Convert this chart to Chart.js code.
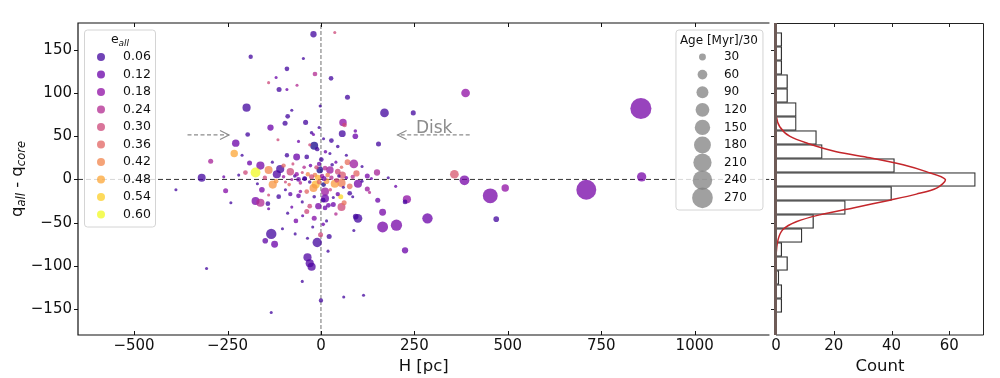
<!DOCTYPE html>
<html>
<head>
<meta charset="utf-8">
<script src="https://cdn.jsdelivr.net/npm/chart.js@4.4.1/dist/chart.umd.min.js"></script>
<style>
html, body { margin: 0; padding: 0; background: #fff; }
#wrap { position: relative; width: 1000px; height: 378px; overflow: hidden; }
canvas { position: absolute; top: 0; }
#scatterChart { left: 0; }
#histChart { left: 760px; }
</style>
</head>
<body>
<div id="wrap">
  <canvas id="scatterChart" width="780" height="378"></canvas>
  <canvas id="histChart" width="240" height="378"></canvas>
</div>
<script>
// scatter: H [pc], q_all - q_core, e_all, Age[Myr]/30
const H = [
  -20, 37, -188, -47, -91, -16, 27, -120, -140, -112,
  -91, -64, 71, 387, 856, -199, 170, 247, -78, -89,
  -96, -41, 59, 63, -135, 57, 92, 92, -196, -25,
  -20, 28, -60, -115, -228, 154, -18, 7, -232, -211,
  -91, -65, -38, 68, 24, -295, -191, 71, 88, -162,
  -140, -175, -202, -118, -109, -82, -319, 95, 124, 150,
  357, 384, 858, 24, 45, 57, -3, 11, -16, -44,
  -60, -78, -50, 1, -5, -388, -255, -241, -175, -162,
  -142, -140, -158, -129, -113, -82, -60, -78, -67, -89,
  -49, -38, -18, -133, -149, -124, -103, -69, -36, -10,
  -1, 22, -36, -30, -25, -50, 0, -306, -133, 61,
  114, 19, -14, -20, -38, 11, 11, 6, -7, -30,
  11, 7, -43, 53, 77, 33, 55, 62, 99, 93,
  152, 124, 99, 77, 55, 37, 15, 230, 225, 165,
  165, 202, 285, 469, 88, 225, 453, 493, 710, 20,
  33, 60, 15, -22, -100, -95, -70, -55, -35, -30,
  -25, -8, -5, 3, 8, 18, 28, 42, 48, 68,
  85, 110, 135, -150, -120, -85, -65, -45, -28, -12,
  30, 40, 55, 110, -75, -130, -100, -55, -18, 25,
  45, 85, 130, -95, -140, -170, -220, -260, 180, 200,
  -10, 12, -30, 45, -50, 40, -5, -2, 6
];
const DQ = [
  168, 170, 142, 140, 128, 122, 117, 118, 112, 104,
  104, 109, 95, 100, 82, 83, 77, 77, 80, 73,
  65, 66, 66, 63, 60, 53, 50, 56, 52, 54,
  52, 45, 44, 46, 42, 41, 39, 47, 30, 28,
  28, 26, 26, 28, 30, 21, 19, 20, 18, 16,
  11, 8, 8, 6, 12, 9, 2, 7, 4, 8,
  6, -1, 3, 11, 9, 5, 11, 13, 5, 1,
  0, 0, 8, 23, 18, -12, -13, -27, -25, -27,
  -28, -34, -12, -6, -20, -17, -19, -32, -48, -39,
  -42, -37, -45, -63, -71, -75, -57, -63, -68, -73,
  -64, -66, -90, -97, -101, -118, -140, -103, -154, -136,
  -134, -83, -6, -10, -14, -14, -22, -24, -31, -31,
  -33, -6, 1, -20, -16, -29, -32, -27, -45, -43,
  -24, -11, -5, -8, -4, -5, -2, -23, -26, -38,
  -55, -53, -45, -46, -59, -82, -19, -10, -12, -30,
  -21, -9, -48, -55, 3, -3, 4, -4, 6, -3,
  3, 2, -3, 4, 1, 5, 2, -1, 4, 2,
  3, -2, 1, 2, -2, -6, 6, 14, 16, 14,
  17, 20, 14, 15, 18, 20, 16, -14, -20, -12,
  -17, -20, -15, -12, -18, -5, 5, 3, 2, -8,
  35, 32, 40, 38, -26, -40, 60, 85, -52
];
const ECC = [
  0.06, 0.30, 0.06, 0.06, 0.06, 0.24, 0.06, 0.12, 0.30, 0.06,
  0.12, 0.24, 0.06, 0.18, 0.14, 0.06, 0.06, 0.06, 0.06, 0.06,
  0.06, 0.06, 0.18, 0.30, 0.12, 0.06, 0.12, 0.12, 0.06, 0.06,
  0.12, 0.06, 0.12, 0.30, 0.12, 0.06, 0.01, 0.06, 0.48, 0.06,
  0.06, 0.12, 0.06, 0.06, 0.06, 0.22, 0.12, 0.38, 0.20, 0.14,
  0.42, 0.60, 0.30, 0.08, 0.06, 0.30, 0.06, 0.36, 0.14, 0.22,
  0.33, 0.14, 0.14, 0.20, 0.30, 0.33, 0.01, 0.24, 0.40, 0.06,
  0.12, 0.20, 0.30, 0.06, 0.12, 0.06, 0.16, 0.06, 0.14, 0.24,
  0.06, 0.12, 0.14, 0.45, 0.06, 0.10, 0.12, 0.12, 0.14, 0.06,
  0.10, 0.30, 0.16, 0.06, 0.10, 0.12, 0.06, 0.06, 0.06, 0.06,
  0.30, 0.06, 0.08, 0.08, 0.08, 0.06, 0.06, 0.06, 0.06, 0.06,
  0.06, 0.06, 0.50, 0.45, 0.36, 0.20, 0.12, 0.06, 0.14, 0.30,
  0.12, 0.01, 0.06, 0.55, 0.06, 0.12, 0.30, 0.38, 0.06, 0.06,
  0.12, 0.20, 0.14, 0.38, 0.40, 0.46, 0.45, 0.18, 0.06, 0.14,
  0.14, 0.14, 0.12, 0.06, 0.06, 0.12, 0.14, 0.18, 0.14, 0.12,
  0.06, 0.06, 0.06, 0.06, 0.20, 0.30, 0.06, 0.24, 0.42, 0.06,
  0.30, 0.50, 0.36, 0.20, 0.12, 0.40, 0.24, 0.30, 0.06, 0.12,
  0.24, 0.06, 0.12, 0.30, 0.45, 0.36, 0.18, 0.24, 0.12, 0.30,
  0.06, 0.12, 0.36, 0.06, 0.30, 0.06, 0.36, 0.18, 0.06, 0.30,
  0.12, 0.06, 0.24, 0.06, 0.30, 0.06, 0.06, 0.12, 0.06, 0.12,
  0.06, 0.12, 0.30, 0.06, 0.06, 0.24, 0.06, 0.06, 0.12
];
const AGE30 = [
  25, 6, 12, 6, 14, 14, 14, 6, 6, 16,
  6, 6, 16, 48, 280, 42, 48, 16, 6, 14,
  16, 16, 35, 14, 25, 30, 20, 8, 14, 8,
  6, 14, 6, 6, 35, 16, 40, 6, 35, 6,
  12, 30, 14, 6, 6, 16, 16, 20, 48, 42,
  40, 62, 14, 42, 42, 35, 40, 25, 16, 25,
  48, 60, 55, 35, 20, 35, 28, 14, 14, 14,
  14, 6, 6, 14, 12, 6, 16, 6, 40, 42,
  14, 6, 20, 42, 14, 12, 14, 6, 14, 6,
  6, 16, 16, 68, 20, 30, 6, 6, 6, 55,
  16, 16, 42, 42, 42, 6, 12, 6, 6, 6,
  6, 6, 42, 40, 14, 40, 40, 14, 25, 14,
  14, 14, 12, 16, 14, 16, 40, 16, 48, 20,
  16, 16, 42, 20, 42, 42, 20, 42, 14, 30,
  75, 80, 68, 20, 6, 25, 140, 35, 250, 14,
  6, 6, 6, 6, 8, 6, 8, 8, 12, 8,
  16, 22, 14, 12, 16, 14, 12, 14, 8, 8,
  12, 6, 6, 12, 14, 8, 12, 8, 8, 12,
  8, 6, 8, 6, 6, 6, 12, 8, 8, 8,
  12, 6, 6, 6, 6, 6, 6, 6, 6, 6,
  12, 8, 6, 8, 6, 8, 6, 6, 8
];

// histogram of q_all - q_core (bin centres and counts)
const binCenters = [161.9, 145.7, 129.5, 113.3, 97.1, 80.9, 64.7, 48.5, 32.3, 16.1,
                    -0.1, -16.3, -32.5, -48.7, -64.9, -81.1, -97.3, -113.5, -129.7, -145.9];
const binCounts = [2, 2, 2, 4, 4, 7, 7, 14, 16, 41, 69, 40, 24, 13, 9, 2, 4, 1, 2, 2];

// red fit curve
const fitY = [181, 120, 90, 73, 61, 50, 41, 32, 25, 17, 9, 0, -10, -17, -24, -33, -41, -49, -58, -70, -90, -120, -180];
const fitCount = [0, 0, 0, 0.1, 1.3, 4.7, 11.6, 20.9, 32.5, 44, 52, 58.6, 55.6, 48.6, 39.4, 26.7, 15.1, 7, 2.4, 0.7, 0, 0, 0];

// legends
const eLegend = [0.06, 0.12, 0.18, 0.24, 0.30, 0.36, 0.42, 0.48, 0.54, 0.60];
const ageLegend = [30, 60, 90, 120, 150, 180, 210, 240, 270];

// axis limits
const xLim = [-650, 1200];
const yLim = [-180, 181];
const countLim = [0, 72];

// annotations (data coordinates)
const arrowY = 51.5;
const leftArrow = [-357, -246];
const diskArrow = [398, 205];
const diskLabel = [254, 54];

const FONT = '"DejaVu Sans", sans-serif';
Chart.defaults.font.family = FONT;
Chart.defaults.color = '#111';

const PLASMA = [[13,8,135],[65,4,157],[106,0,168],[143,13,164],[177,42,144],[204,71,120],
                [225,100,98],[242,132,75],[252,166,54],[252,206,37],[240,249,33]];
function plasma(e, alpha) {
  const t = Math.max(0, Math.min(1, e / 0.6)) * 10;
  const i = Math.min(9, Math.floor(t));
  const f = t - i;
  const a = PLASMA[i], b = PLASMA[i + 1];
  const c = a.map((v, k) => Math.round(v + (b[k] - v) * f));
  return `rgba(${c[0]},${c[1]},${c[2]},${alpha})`;
}
const sizeToRadius = s => 0.63 * Math.sqrt(s);
const fmtTick = v => String(v).replace('-', '\u2212');

const n = Math.min(H.length, DQ.length, ECC.length, AGE30.length);
const bubbles = [];
for (let i = 0; i < n; i++) {
  bubbles.push({ x: H[i], y: DQ[i], r: sizeToRadius(AGE30[i]) });
}

function dashedArrow(ctx, x0, y0, x1) {
  ctx.save();
  ctx.strokeStyle = '#8c8c8c';
  ctx.lineWidth = 1.2;
  ctx.setLineDash([4, 2.5]);
  ctx.beginPath();
  ctx.moveTo(x0, y0);
  ctx.lineTo(x1, y0);
  ctx.stroke();
  ctx.setLineDash([]);
  const d = Math.sign(x1 - x0);
  ctx.beginPath();
  ctx.moveTo(x1 - d * 9, y0 - 4.5);
  ctx.lineTo(x1, y0);
  ctx.lineTo(x1 - d * 9, y0 + 4.5);
  ctx.stroke();
  ctx.restore();
}

function legendBox(ctx, x, y, w, h) {
  ctx.save();
  ctx.fillStyle = 'rgba(255,255,255,0.8)';
  ctx.strokeStyle = '#d4d4d4';
  ctx.lineWidth = 1;
  ctx.beginPath();
  ctx.roundRect(x + 0.5, y + 0.5, w, h, 3);
  ctx.fill();
  ctx.stroke();
  ctx.restore();
}

function drawRichText(ctx, parts, cx, baseline) {
  let total = 0;
  parts.forEach(p => {
    ctx.font = `${p.italic ? 'italic ' : ''}${p.size}px ${FONT}`;
    p.w = ctx.measureText(p.text).width;
    total += p.w;
  });
  let x = cx - total / 2;
  ctx.textAlign = 'left';
  ctx.textBaseline = 'alphabetic';
  parts.forEach(p => {
    ctx.font = `${p.italic ? 'italic ' : ''}${p.size}px ${FONT}`;
    ctx.fillText(p.text, x, baseline + (p.dy || 0));
    x += p.w;
  });
}

const mainDecor = {
  id: 'mainDecor',
  afterDatasetsDraw(chart) {
    const { ctx, chartArea: a, scales: { x, y } } = chart;
    const ay = y.getPixelForValue(arrowY);
    dashedArrow(ctx, x.getPixelForValue(leftArrow[0]), ay, x.getPixelForValue(leftArrow[1]));
    dashedArrow(ctx, x.getPixelForValue(diskArrow[0]), ay, x.getPixelForValue(diskArrow[1]));
    ctx.save();
    ctx.fillStyle = '#8c8c8c';
    ctx.font = `17px ${FONT}`;
    ctx.textAlign = 'left';
    ctx.textBaseline = 'alphabetic';
    ctx.fillText('Disk', x.getPixelForValue(diskLabel[0]), y.getPixelForValue(diskLabel[1]));
    ctx.restore();

    // e_all legend
    const ex = a.left + 6, ey = a.top + 6.5;
    legendBox(ctx, ex, ey, 71, 197);
    ctx.save();
    ctx.fillStyle = '#111';
    drawRichText(ctx, [
      { text: 'e', size: 12.5 },
      { text: 'all', size: 9, italic: true, dy: 2.5 }
    ], ex + 36, ey + 13.5);
    ctx.font = `12.5px ${FONT}`;
    ctx.textBaseline = 'middle';
    eLegend.forEach((e, i) => {
      const cy = ey + 27.5 + i * 17.5;
      ctx.fillStyle = plasma(e, 0.75);
      ctx.beginPath();
      ctx.arc(ex + 17, cy, 4, 0, Math.PI * 2);
      ctx.fill();
      ctx.fillStyle = '#111';
      ctx.fillText(e.toFixed(2), ex + 39, cy);
    });
    ctx.restore();

    // Age legend
    const aw = 87, ah = 180;
    const ax = a.right - 7 - aw, aTop = a.top + 6.5;
    legendBox(ctx, ax, aTop, aw, ah);
    ctx.save();
    ctx.fillStyle = '#111';
    ctx.font = `12px ${FONT}`;
    ctx.textAlign = 'center';
    ctx.textBaseline = 'alphabetic';
    ctx.fillText('Age [Myr]/30', ax + aw / 2, aTop + 14);
    ctx.textAlign = 'left';
    ctx.textBaseline = 'middle';
    ageLegend.forEach((s, i) => {
      const cy = aTop + 27.5 + i * 17.6;
      ctx.fillStyle = 'rgba(128,128,128,0.75)';
      ctx.beginPath();
      ctx.arc(ax + 27, cy, sizeToRadius(s), 0, Math.PI * 2);
      ctx.fill();
      ctx.fillStyle = '#111';
      ctx.fillText(String(s), ax + 48.5, cy);
    });
    ctx.restore();
  },
  afterDraw(chart) {
    const { ctx, chartArea: a, scales: { x, y } } = chart;
    ctx.save();
    ctx.strokeStyle = '#111';
    ctx.lineWidth = 1.2;
    ctx.beginPath();
    ctx.moveTo(a.right, a.top);
    ctx.lineTo(a.left, a.top);
    ctx.lineTo(a.left, a.bottom);
    ctx.lineTo(a.right, a.bottom);
    ctx.stroke();
    ctx.lineWidth = 1;
    ctx.beginPath();
    x.ticks.forEach(t => {
      const px = Math.round(x.getPixelForValue(t.value)) + 0.5;
      ctx.moveTo(px, a.bottom); ctx.lineTo(px, a.bottom - 4);
      ctx.moveTo(px, a.top); ctx.lineTo(px, a.top + 4);
    });
    y.ticks.forEach(t => {
      const py = Math.round(y.getPixelForValue(t.value)) + 0.5;
      ctx.moveTo(a.left - 4, py); ctx.lineTo(a.left, py);
    });
    ctx.stroke();

    // y axis label q_all - q_core
    ctx.translate(22, (a.top + a.bottom) / 2);
    ctx.rotate(-Math.PI / 2);
    ctx.fillStyle = '#111';
    drawRichText(ctx, [
      { text: 'q', size: 16.5 },
      { text: 'all', size: 11.5, italic: true, dy: 3 },
      { text: ' - q', size: 16.5 },
      { text: 'core', size: 11.5, italic: true, dy: 3 }
    ], 0, 0);
    ctx.restore();
  }
};

new Chart(document.getElementById('scatterChart'), {
  type: 'bubble',
  data: {
    datasets: [
      {
        type: 'scatter',
        data: [{ x: xLim[0], y: 0 }, { x: xLim[1], y: 0 }],
        showLine: true,
        borderColor: '#333',
        borderWidth: 1,
        borderDash: [5, 3],
        pointRadius: 0,
        order: 3
      },
      {
        type: 'scatter',
        data: [{ x: 0, y: yLim[0] }, { x: 0, y: yLim[1] }],
        showLine: true,
        borderColor: '#888',
        borderWidth: 1.2,
        borderDash: [4, 2],
        pointRadius: 0,
        order: 2
      },
      {
        data: bubbles,
        backgroundColor: ctx => plasma(ECC[ctx.dataIndex], 0.75),
        borderWidth: 0,
        order: 1
      }
    ]
  },
  options: {
    responsive: false,
    animation: false,
    devicePixelRatio: 1,
    events: [],
    layout: { padding: { left: 0, right: 5, top: 23, bottom: 0 } },
    plugins: { legend: { display: false }, tooltip: { enabled: false } },
    scales: {
      x: {
        type: 'linear', min: xLim[0], max: xLim[1],
        grid: { display: false, drawTicks: false },
        border: { display: false },
        ticks: { stepSize: 250, includeBounds: false, padding: 2, font: { size: 15 }, color: '#111', callback: fmtTick },
        title: { display: true, text: 'H [pc]', font: { size: 16.5 }, color: '#111', padding: { top: 0, bottom: 1 } },
        afterFit: s => { s.height = 43; }
      },
      y: {
        type: 'linear', min: yLim[0], max: yLim[1],
        grid: { display: false, drawTicks: false },
        border: { display: false },
        ticks: { stepSize: 50, includeBounds: false, padding: 6, font: { size: 15 }, color: '#111', callback: fmtTick },
        afterFit: s => { s.width = 78; }
      }
    }
  },
  plugins: [mainDecor]
});

const histDecor = {
  id: 'histDecor',
  afterDraw(chart) {
    const { ctx, chartArea: a, scales: { x, y } } = chart;
    ctx.save();
    ctx.strokeStyle = '#222';
    ctx.lineWidth = 1;
    ctx.beginPath();
    ctx.moveTo(a.left, a.top + 0.5);
    ctx.lineTo(a.right - 0.5, a.top + 0.5);
    ctx.lineTo(a.right - 0.5, a.bottom);
    ctx.lineTo(a.left, a.bottom);
    ctx.stroke();
    ctx.beginPath();
    x.ticks.forEach(t => {
      const px = Math.round(x.getPixelForValue(t.value)) + 0.5;
      if (t.value === 0) return;
      ctx.moveTo(px, a.bottom); ctx.lineTo(px, a.bottom - 4);
      ctx.moveTo(px, a.top); ctx.lineTo(px, a.top + 4);
    });
    y.ticks.forEach(t => {
      const py = Math.round(y.getPixelForValue(t.value)) + 0.5;
      ctx.moveTo(a.left - 5, py); ctx.lineTo(a.left, py);
    });
    ctx.stroke();
    ctx.strokeStyle = '#6e5b57';
    ctx.lineWidth = 3;
    ctx.beginPath();
    ctx.moveTo(a.left - 0.5, a.top);
    ctx.lineTo(a.left - 0.5, a.bottom);
    ctx.stroke();
    ctx.restore();
  }
};

new Chart(document.getElementById('histChart'), {
  type: 'bar',
  data: {
    datasets: [
      {
        type: 'scatter',
        data: fitY.map((v, i) => ({ x: fitCount[i], y: v })),
        showLine: true,
        borderColor: '#c3262b',
        borderWidth: 1.5,
        pointRadius: 0,
        tension: 0.3,
        order: 0
      },
      {
        type: 'bar',
        data: binCenters.map((c, i) => ({ x: binCounts[i], y: c })),
        backgroundColor: '#ffffff',
        borderColor: '#333333',
        borderWidth: 1.3,
        barPercentage: 1,
        categoryPercentage: 1,
        order: 1
      }
    ]
  },
  options: {
    indexAxis: 'y',
    responsive: false,
    animation: false,
    devicePixelRatio: 1,
    events: [],
    layout: { padding: { left: 16, right: 16, top: 23, bottom: 0 } },
    plugins: { legend: { display: false }, tooltip: { enabled: false } },
    scales: {
      x: {
        type: 'linear', min: countLim[0], max: countLim[1],
        grid: { display: false, drawTicks: false },
        border: { display: false },
        ticks: { stepSize: 20, includeBounds: false, padding: 2, font: { size: 15 }, color: '#111' },
        title: { display: true, text: 'Count', font: { size: 16.5 }, color: '#111', padding: { top: 0, bottom: 1 } },
        afterFit: s => { s.height = 43; }
      },
      y: {
        type: 'linear', min: yLim[0], max: yLim[1], offset: false,
        grid: { display: false, drawTicks: false },
        border: { display: false },
        ticks: { stepSize: 50, includeBounds: false, display: false },
        afterFit: s => { s.width = 0; }
      }
    }
  },
  plugins: [histDecor]
});
</script>
</body>
</html>
